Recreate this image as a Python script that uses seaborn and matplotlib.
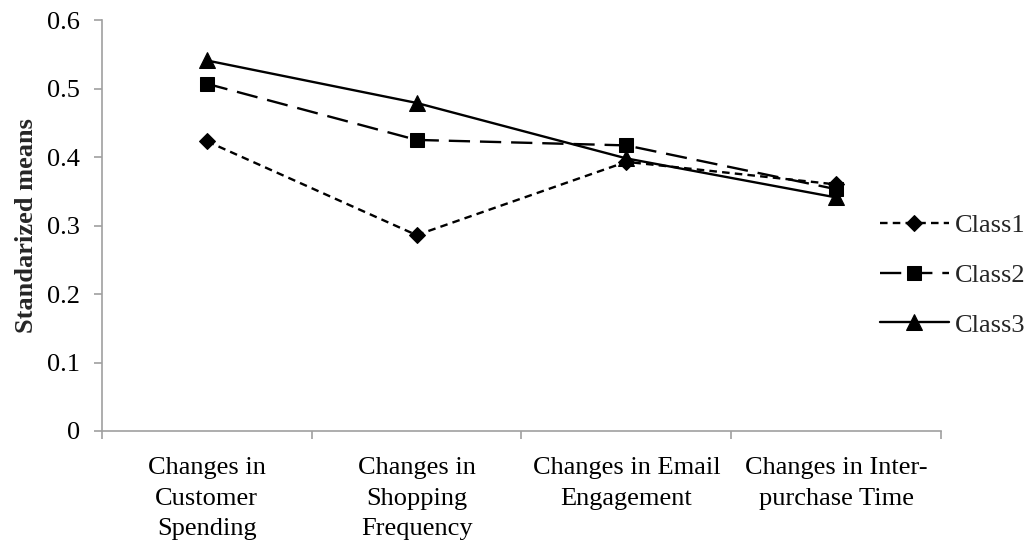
import matplotlib
matplotlib.use("Agg")
import matplotlib.pyplot as plt
from matplotlib.ticker import FixedLocator, FixedFormatter
import pandas as pd
import seaborn as sns

# Categories along the x axis
categories = [
    "Changes in\nCustomer\nSpending",
    "Changes in\nShopping\nFrequency",
    "Changes in Email\nEngagement",
    "Changes in Inter-\npurchase Time",
]

# Standardized means for each latent class
class1 = [0.423, 0.286, 0.393, 0.360]
class2 = [0.507, 0.425, 0.417, 0.353]
class3 = [0.541, 0.479, 0.398, 0.341]

series_names = ["Class1", "Class2", "Class3"]
y_ticks = [0.0, 0.1, 0.2, 0.3, 0.4, 0.5, 0.6]
y_tick_labels = ["0", "0.1", "0.2", "0.3", "0.4", "0.5", "0.6"]
y_label = "Standarized means"

sns.set_theme(style="white")
plt.rcParams["font.family"] = ["Liberation Serif", "DejaVu Serif"]

rows = []
for name, vals in zip(series_names, [class1, class2, class3]):
    for i, v in enumerate(vals):
        rows.append({"pos": i, "value": v, "Class": name})
df = pd.DataFrame(rows)

FS = 19

fig = plt.figure(figsize=(10.29, 5.42), dpi=100)
ax = fig.add_axes([0.0991, 0.2048, 0.9145 - 0.0991, 0.963 - 0.2048])

sns.lineplot(
    data=df, x="pos", y="value", hue="Class", style="Class",
    palette={"Class1": "black", "Class2": "black", "Class3": "black"},
    dashes={"Class1": (3.2, 2.2), "Class2": (9.0, 4.2), "Class3": ""},
    markers={"Class1": "D", "Class2": "s", "Class3": "^"},
    markersize=10, linewidth=1.7, markeredgecolor="black",
    ax=ax, legend=True,
)

# Fine-tune marker sizes per series
for line in ax.get_lines():
    if line.get_marker() == "D":
        line.set_markersize(8)
    elif line.get_marker() == "^":
        line.set_markersize(11)

ax.set_xlim(-0.5, len(categories) - 0.5)
ax.set_ylim(0, 0.6)

# Category labels at centers, tick marks at boundaries
ax.xaxis.set_major_locator(FixedLocator(range(len(categories))))
ax.xaxis.set_major_formatter(FixedFormatter(categories))
ax.xaxis.set_minor_locator(FixedLocator([i - 0.5 for i in range(len(categories) + 1)]))
ax.tick_params(axis="x", which="major", length=0, pad=19, labelsize=FS, colors="black")
ax.tick_params(axis="x", which="minor", length=6, width=1.2, color="#a0a0a0", direction="out", bottom=True)
for lab in ax.get_xticklabels():
    lab.set_linespacing(1.5)

ax.yaxis.set_major_locator(FixedLocator(y_ticks))
ax.yaxis.set_major_formatter(FixedFormatter(y_tick_labels))
ax.tick_params(axis="y", which="major", length=6, width=1.2, color="#a0a0a0", direction="out",
               left=True, pad=10, labelsize=FS, labelcolor="black")

for side in ["top", "right"]:
    ax.spines[side].set_visible(False)
for side in ["left", "bottom"]:
    ax.spines[side].set_color("#a0a0a0")
    ax.spines[side].set_linewidth(1.2)

ax.set_xlabel("")
ax.set_ylabel(y_label, fontsize=19, fontweight="bold", labelpad=6)

handles, labels = ax.get_legend_handles_labels()
ax.legend(
    handles, labels, loc="center left",
    bbox_to_anchor=(880 / 1029, 1 - 275 / 542), bbox_transform=fig.transFigure,
    frameon=False, fontsize=FS, handlelength=2.6, handletextpad=0.25,
    labelspacing=1.0, borderpad=0, borderaxespad=0,
)

fig.savefig("out.png", dpi=100)
